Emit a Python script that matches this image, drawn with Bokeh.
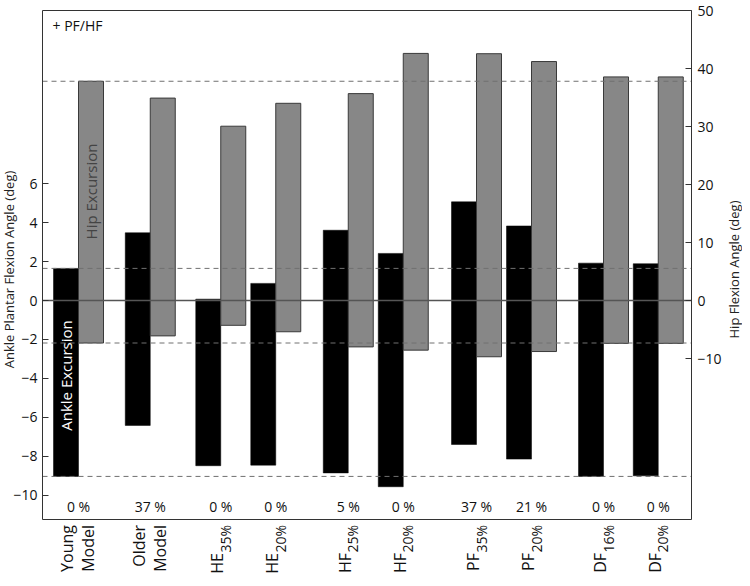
import math
from bokeh.plotting import figure
from bokeh.models import Range1d, LinearAxis, FixedTicker, Label
from bokeh.embed import file_html
from bokeh.resources import INLINE

# ---------------- data ----------------
label_main = ["Young", "Older", "HE", "HE", "HF", "HF", "PF", "PF", "DF", "DF"]
label_sub = ["Model", "Model", "35%", "20%", "25%", "20%", "35%", "20%", "16%", "20%"]
pct_labels = ["0 %", "37 %", "0 %", "0 %", "5 %", "0 %", "37 %", "21 %", "0 %", "0 %"]

ankle_max = [1.65, 3.48, 0.07, 0.88, 3.61, 2.42, 5.07, 3.83, 1.92, 1.89]
ankle_min = [-9.04, -6.42, -8.49, -8.46, -8.86, -9.57, -7.40, -8.15, -9.04, -9.01]
hip_max = [37.8, 34.9, 30.05, 34.0, 35.67, 42.6, 42.55, 41.2, 38.55, 38.55]
hip_min = [-7.33, -6.1, -4.28, -5.39, -8.0, -8.56, -9.7, -8.8, -7.39, -7.39]

left_ticks = [-10, -8, -6, -4, -2, 0, 2, 4, 6]
right_ticks = [-10, 0, 10, 20, 30, 40, 50]
left_title = "Ankle Plantar Flexion Angle (deg)"
right_title = "Hip Flexion Angle (deg)"

# ---------------- layout ----------------
group_x = [1.44, 4.31, 7.13, 9.33, 12.23, 14.43, 17.36, 19.56, 22.44, 24.63]
FONT = "Open Sans"
W, H = 742, 576
PX = 25.0                # px per x unit
PYL = 19.46              # px per left-axis unit
PYR = 5.80               # px per right-axis unit
X_END = 25.96            # right edge of the plot box (x units)
ZERO_Y = 308.0           # page y of the zero line


def xv(page_x):
    return (page_x - 50.0) / PX


def v(page_y):
    return (ZERO_Y - page_y) / PYL


def vr(page_y):
    return (ZERO_Y - page_y) / PYR


BOX_TOP = v(18)
BOX_BOTTOM = v(527)

p = figure(width=W, height=H, output_backend="svg", toolbar_location=None,
           x_range=Range1d(xv(8), xv(8 + W)),
           y_range=Range1d(v(8 + H), v(8)),
           x_axis_location=None, y_axis_location=None,
           min_border_left=0, min_border_right=0, min_border_top=0,
           min_border_bottom=0)
p.extra_y_ranges = {"hip": Range1d(vr(8 + H), vr(8))}
p.xgrid.visible = False
p.ygrid.visible = False
p.outline_line_color = None
p.background_fill_color = "white"
p.border_fill_color = "white"


def style_axis(ax, standoff):
    ax.major_tick_in = 6
    ax.major_tick_out = 0
    ax.minor_tick_line_color = None
    ax.axis_line_color = None
    ax.major_tick_line_color = "#333333"
    ax.major_label_text_font = FONT
    ax.major_label_text_font_size = "14px"
    ax.major_label_text_color = "#111111"
    ax.major_label_standoff = standoff
    ax.axis_label = None


la = LinearAxis(ticker=FixedTicker(ticks=left_ticks), fixed_location=0)
style_axis(la, 5)
p.add_layout(la, "left")

ra = LinearAxis(y_range_name="hip", ticker=FixedTicker(ticks=right_ticks),
                fixed_location=X_END)
style_axis(ra, 6)
p.add_layout(ra, "right")

# bars
ankle_x = [g - 0.5 for g in group_x]
hip_x = [g + 0.5 for g in group_x]
p.vbar(x=ankle_x, top=ankle_max, bottom=ankle_min, width=1.0,
       fill_color="black", line_color="black", line_width=0.5)
p.vbar(x=hip_x, top=hip_max, bottom=hip_min, width=1.0,
       fill_color="#878787", line_color="#3a3a3a", line_width=1,
       y_range_name="hip")

# reference lines (young model values) and zero line
dash_col = "#707070"
p.segment(x0=[0, 0], x1=[X_END, X_END], y0=[ankle_max[0], ankle_min[0]],
          y1=[ankle_max[0], ankle_min[0]], line_color=dash_col, line_dash="5 4",
          line_width=1)
p.segment(x0=[0, 0], x1=[X_END, X_END], y0=[hip_max[0], hip_min[0]],
          y1=[hip_max[0], hip_min[0]], line_color=dash_col, line_dash="5 4",
          line_width=1, y_range_name="hip")
p.segment(x0=[0], x1=[X_END], y0=[0], y1=[0], line_color="#555555", line_width=1.5)

# plot box
p.quad(left=[0], right=[X_END], bottom=[BOX_BOTTOM], top=[BOX_TOP],
       fill_color=None, line_color="#333333", line_width=1)

# in-plot texts
p.add_layout(Label(x=xv(60), y=v(33), text="+ PF/HF", text_font=FONT,
                   text_font_size="14px", text_color="#111111",
                   text_align="left", text_baseline="middle"))
p.add_layout(Label(x=hip_x[0], y=v(199), text="Hip Excursion", angle=math.pi / 2,
                   text_font=FONT, text_font_size="15px", text_color="#444444",
                   text_align="center", text_baseline="middle"))
p.add_layout(Label(x=ankle_x[0], y=v(383), text="Ankle Excursion", angle=math.pi / 2,
                   text_font=FONT, text_font_size="15px", text_color="white",
                   text_align="center", text_baseline="middle"))

for g, t in zip(group_x, pct_labels):
    p.add_layout(Label(x=g, y=v(514), text=t, text_font=FONT, text_font_size="14px",
                       text_color="#111111", text_align="center",
                       text_baseline="middle"))

# category labels below the box
top_y = v(532.5)
for g, m, s in zip(group_x, label_main, label_sub):
    if s == "Model":
        p.add_layout(Label(x=g - 11.5 / PX, y=top_y, text=m, angle=math.pi / 2,
                           text_font=FONT, text_font_size="16px", text_color="#111111",
                           text_align="right", text_baseline="middle"))
        p.add_layout(Label(x=g + 9.5 / PX, y=top_y, text=s, angle=math.pi / 2,
                           text_font=FONT, text_font_size="16px", text_color="#111111",
                           text_align="right", text_baseline="middle"))
    else:
        sub_w = 28.0 / PYL
        p.add_layout(Label(x=g + 4.5 / PX, y=top_y, text=s, angle=math.pi / 2,
                           text_font=FONT, text_font_size="14px", text_color="#111111",
                           text_align="right", text_baseline="middle"))
        p.add_layout(Label(x=g - 3.5 / PX, y=top_y - sub_w, text=m, angle=math.pi / 2,
                           text_font=FONT, text_font_size="16px", text_color="#111111",
                           text_align="right", text_baseline="middle"))

# axis titles
p.add_layout(Label(x=xv(16), y=v(277), text=left_title, angle=math.pi / 2,
                   text_font=FONT, text_font_size="13px", text_color="#222222",
                   text_align="center", text_baseline="middle"))
p.add_layout(Label(x=xv(741), y=v(277), text=right_title, angle=math.pi / 2,
                   text_font=FONT, text_font_size="13px", text_color="#222222",
                   text_align="center", text_baseline="middle"))

open("out.html", "w").write(file_html(p, INLINE))
